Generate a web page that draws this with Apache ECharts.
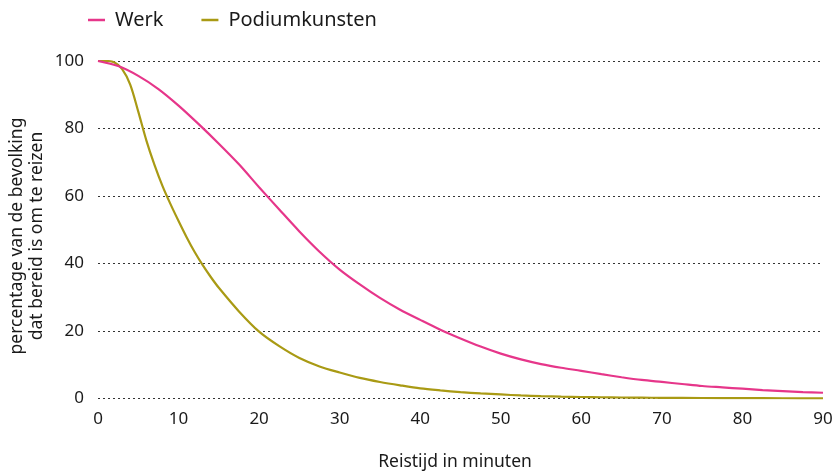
<!DOCTYPE html>
<html>
<head>
<meta charset="utf-8">
<script src="https://cdn.jsdelivr.net/npm/echarts@6/dist/echarts.min.js"></script>
<style>
html,body{margin:0;padding:0;background:#fff;}
#chart{width:839px;height:473px;}
</style>
</head>
<body>
<div id="chart"></div>
<script>
// Data
const seriesNames = ['Werk', 'Podiumkunsten'];
const werkX = [0, 2.5, 5, 7.5, 10, 12.5, 15, 17.5, 20, 22.5, 25, 27.5, 30, 32.5, 35, 37.5, 40, 42.5, 45, 47.5, 50, 52.5, 55, 57.5, 60, 62.5, 65, 67.5, 70, 72.5, 75, 77.5, 80, 82.5, 85, 87.5, 90];
const werkY = [100, 98.5, 95.6, 91.7, 86.8, 81.3, 75.5, 69.4, 62.6, 56.0, 49.5, 43.5, 38.2, 33.8, 29.8, 26.3, 23.3, 20.4, 17.8, 15.4, 13.3, 11.6, 10.2, 9.1, 8.2, 7.2, 6.3, 5.5, 4.9, 4.3, 3.7, 3.3, 2.9, 2.5, 2.2, 1.9, 1.7];
const podiumX = [0, 1, 2, 3, 4, 5, 6, 7, 8, 9, 10, 11, 12, 13, 14, 15, 17.5, 20, 22.5, 25, 27.5, 30, 32.5, 35, 37.5, 40, 42.5, 45, 47.5, 50, 52.5, 55, 57.5, 60, 62.5, 65, 67.5, 70, 75, 80, 85, 90];
const podiumY = [100, 100, 99.6, 97.6, 93.0, 85.0, 76.5, 69.3, 63.0, 57.6, 52.6, 47.8, 43.4, 39.5, 36.0, 32.8, 25.8, 19.8, 15.5, 12.0, 9.5, 7.7, 6.1, 4.9, 3.9, 3.0, 2.4, 1.9, 1.5, 1.2, 0.9, 0.7, 0.55, 0.45, 0.37, 0.3, 0.25, 0.2, 0.15, 0.1, 0.07, 0.05];
const xTicks = [0, 10, 20, 30, 40, 50, 60, 70, 80, 90];
const yTicks = [0, 20, 40, 60, 80, 100];
const xTitle = 'Reistijd in minuten';
const yTitle = 'percentage van de bevolking\ndat bereid is om te reizen';

const colors = ['#e6368a', '#a99a14'];
const font = 'Noto Sans';

const chart = echarts.init(document.getElementById('chart'));
const pair = (xs, ys) => xs.map((x, i) => [x, ys[i]]);

chart.setOption({
  animation: false,
  textStyle: { fontFamily: font },
  color: colors,
  grid: { left: 98, right: 16, top: 61, bottom: 74.5, containLabel: false },
  legend: {
    data: seriesNames,
    left: 83, top: 5,
    icon: 'rect',
    itemWidth: 17, itemHeight: 2.5,
    itemGap: 38,
    textStyle: { fontFamily: font, fontSize: 20, color: '#1a1a1a', padding: [0, 0, 0, 5] }
  },
  xAxis: {
    type: 'value', min: 0, max: 90, interval: 10,
    axisLine: { show: false }, axisTick: { show: false },
    splitLine: { show: false },
    axisLabel: { fontSize: 17, color: '#1a1a1a', margin: 12,
      formatter: v => xTicks.includes(v) ? String(v) : '' }
  },
  yAxis: {
    type: 'value', min: 0, max: 100, interval: 20,
    axisLine: { show: false }, axisTick: { show: false },
    splitLine: { show: true, lineStyle: { type: [2, 3], color: '#333', width: 1 } },
    axisLabel: { fontSize: 17, color: '#1a1a1a', margin: 14,
      formatter: v => yTicks.includes(v) ? String(v) : '' }
  },
  graphic: [
    { type: 'text', x: 455, y: 462,
      style: { text: xTitle, fontFamily: font, fontSize: 17.5, fill: '#1a1a1a',
        align: 'center', verticalAlign: 'middle' } },
    { type: 'text', x: 27.5, y: 236, rotation: Math.PI / 2,
      style: { text: yTitle, fontFamily: font, fontSize: 17.5, fill: '#1a1a1a',
        align: 'center', verticalAlign: 'middle', lineHeight: 20 } }
  ],
  series: [
    { name: seriesNames[0], type: 'line', data: pair(werkX, werkY), smooth: 0.3,
      symbol: 'none', lineStyle: { width: 2.2, color: colors[0] }, z: 3 },
    { name: seriesNames[1], type: 'line', data: pair(podiumX, podiumY), smooth: 0.3,
      symbol: 'none', lineStyle: { width: 2.2, color: colors[1] }, z: 2 }
  ]
});
</script>
</body>
</html>
